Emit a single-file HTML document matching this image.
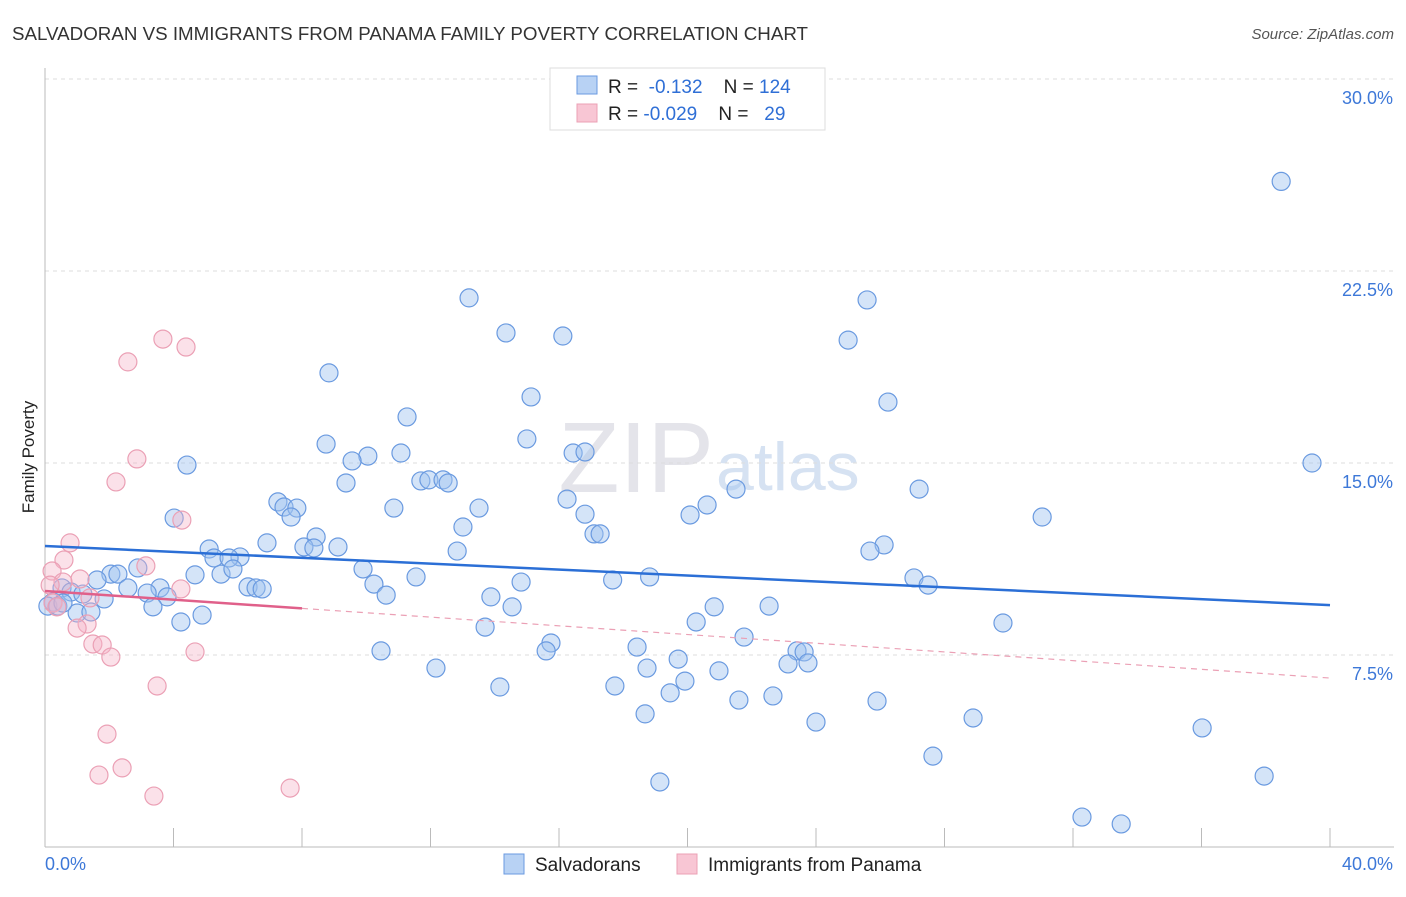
<!DOCTYPE html>
<html><head><meta charset="utf-8"><style>
body{margin:0;background:#fff;font-family:"Liberation Sans",sans-serif;}
svg text{font-family:"Liberation Sans",sans-serif;}
</style></head><body>
<svg id="chart" width="1406" height="892" xmlns="http://www.w3.org/2000/svg">
<text x="12" y="40" font-size="18" fill="#333" textLength="796" lengthAdjust="spacingAndGlyphs">SALVADORAN VS IMMIGRANTS FROM PANAMA FAMILY POVERTY CORRELATION CHART</text>
<text x="1394" y="39" font-size="15" fill="#555" font-style="italic" text-anchor="end">Source: ZipAtlas.com</text>
<text x="714" y="492" font-size="100" fill="#e4e4ea" text-anchor="end" font-family="Liberation Serif">ZIP</text>
<text x="716" y="490" font-size="68" fill="#d6e2f2">atlas</text>
<text transform="translate(34,457) rotate(-90)" font-size="17" fill="#222" text-anchor="middle">Family Poverty</text>
<g id="grid"></g><g id="axes"></g><g id="pts"></g><g id="trend"></g>
<g>
<rect x="550" y="68" width="275" height="62" fill="#fff" stroke="#ddd"/>
<rect x="577" y="76" width="20" height="18" fill="#b8d2f4" stroke="#6a9ae0"/>
<rect x="577" y="104" width="20" height="18" fill="#f8c6d4" stroke="#eba0b5"/>
<text x="608" y="93" font-size="19" fill="#222">R = <tspan fill="#2f6fd6">&#160;-0.132</tspan>&#160;&#160;&#160;&#160;N = <tspan fill="#2f6fd6">124</tspan></text>
<text x="608" y="120" font-size="19" fill="#222">R = <tspan fill="#2f6fd6">-0.029</tspan>&#160;&#160;&#160;&#160;N = <tspan fill="#2f6fd6">&#160;&#160;29</tspan></text>
</g>
<g>
<rect x="504" y="854" width="20" height="20" fill="#b8d2f4" stroke="#6a9ae0"/>
<text x="535" y="871" font-size="19" fill="#222">Salvadorans</text>
<rect x="677" y="854" width="20" height="20" fill="#f8c6d4" stroke="#eba0b5"/>
<text x="708" y="871" font-size="19" fill="#222">Immigrants from Panama</text>
</g>
</svg>
<script>
const xTicks=[0,4,8,12,16,20,24,28,32,36,40];
const yTicks=[7.5,15,22.5,30];
const yTickLabels=["7.5%","15.0%","22.5%","30.0%"];
const xEndLabels=["0.0%","40.0%"];
const blueX=[38.48,13.2,14.35,16.12,25.59,25.0,8.84,15.13,11.27,26.24,8.75,15.0,11.08,10.05,9.56,16.44,16.81,4.42,39.44,9.37,11.7,11.95,12.39,12.55,21.51,27.21,16.25,20.61,10.86,7.25,7.44,7.84,7.66,13.51,16.81,20.08,4.02,31.04,13.01,8.44,17.09,17.28,6.91,5.11,6.07,5.26,5.73,8.06,8.37,9.12,12.83,26.12,25.68,2.89,2.05,2.27,4.67,5.48,5.85,9.9,11.55,17.67,18.82,27.05,27.49,14.82,1.62,10.24,2.58,3.58,6.32,6.57,6.76,0.53,0.81,1.18,3.18,3.8,10.62,13.88,1.84,0.25,0.09,0.4,3.36,14.54,20.83,22.54,1.0,1.43,4.89,4.23,20.27,29.82,13.7,21.76,15.75,18.43,15.6,10.46,23.41,23.63,19.71,18.74,12.17,20.98,23.13,23.75,19.92,17.74,14.16,19.46,21.6,22.66,25.9,18.68,24.0,28.89,36.02,27.64,19.14,37.95,32.28,33.5,0.56];
const blueY=[26.0,21.45,20.08,19.96,21.37,19.8,18.52,17.58,16.8,17.38,15.74,15.94,15.39,15.27,15.08,15.39,15.43,14.92,15.0,14.22,14.3,14.34,14.34,14.22,13.98,13.98,13.59,13.36,13.24,13.48,13.28,13.24,12.89,13.24,13.0,12.97,12.85,12.89,12.5,12.11,12.23,12.23,11.88,11.64,11.33,11.29,11.29,11.72,11.68,11.72,11.56,11.8,11.56,10.9,10.66,10.66,10.63,10.66,10.86,10.86,10.55,10.43,10.55,10.51,10.23,10.35,10.43,10.27,10.12,10.12,10.16,10.12,10.08,10.12,9.96,9.88,9.92,9.77,9.84,9.77,9.69,9.57,9.41,9.41,9.38,9.38,9.38,9.41,9.14,9.18,9.06,8.79,8.79,8.75,8.59,8.2,7.97,7.81,7.66,7.66,7.66,7.62,7.34,6.99,6.99,6.88,7.15,7.19,6.48,6.29,6.25,6.02,5.74,5.9,5.7,5.2,4.88,5.04,4.65,3.55,2.54,2.77,1.17,0.9,9.53];
const pinkX=[3.67,4.39,2.58,2.86,2.21,4.26,0.78,0.59,3.14,0.22,1.09,0.56,0.16,4.23,1.4,0.25,0.37,1.31,1.0,1.49,1.78,2.05,4.67,3.49,1.93,2.4,1.68,3.39,7.63];
const pinkY=[19.84,19.53,18.95,15.16,14.26,12.77,11.88,11.21,10.98,10.78,10.47,10.35,10.23,10.08,9.73,9.53,9.38,8.71,8.55,7.93,7.89,7.42,7.62,6.29,4.41,3.09,2.81,1.99,2.3];
const blueTrend=[11.76,9.45];
const pinkTrend=[10.0,6.6];
const pinkSolidEnd=8;
const X=v=>45+v/40*1285, Y=v=>847-v*25.6;
const NS="http://www.w3.org/2000/svg";
function mk(p,t,a){const e=document.createElementNS(NS,t);for(const k in a)e.setAttribute(k,a[k]);document.getElementById(p).appendChild(e);return e;}
yTicks.forEach((t,i)=>{
 const g=mk('grid','line',{x1:45,x2:1394,y1:Y(t),y2:Y(t),stroke:'#ddd','stroke-dasharray':'4,4'});
 
 
 const l=mk('axes','text',{x:1393,y:Y(t)+25,'font-size':18,fill:'#3d78d8','text-anchor':'end'});l.textContent=yTickLabels[i];
 
 
});
const ax=mk('axes','line',{x1:45,x2:45,y1:68,y2:847,stroke:'#bbb'});


const bx=mk('axes','line',{x1:45,x2:1394,y1:847,y2:847,stroke:'#bbb'});


xTicks.forEach(t=>{const e=mk('axes','line',{x1:X(t),x2:X(t),y1:828,y2:847,stroke:'#bbb'});
 
 });
const l0=mk('axes','text',{x:45,y:870,'font-size':18,fill:'#3d78d8'});l0.textContent=xEndLabels[0];


const l1=mk('axes','text',{x:1393,y:870,'font-size':18,fill:'#3d78d8','text-anchor':'end'});l1.textContent=xEndLabels[1];


blueX.forEach((v,i)=>{const c=mk('pts','circle',{cx:X(v),cy:Y(blueY[i]),r:9,fill:'rgba(160,195,240,0.45)',stroke:'#6a9ae0','stroke-width':1.2});
 
 });
pinkX.forEach((v,i)=>{const c=mk('pts','circle',{cx:X(v),cy:Y(pinkY[i]),r:9,fill:'rgba(245,180,200,0.4)',stroke:'#eba0b5','stroke-width':1.2});
 
 });
const bt=mk('trend','line',{x1:X(0),y1:Y(blueTrend[0]),x2:X(40),y2:Y(blueTrend[1]),stroke:'#2b6fd6','stroke-width':2.5});


const pm=pinkTrend[0]+(pinkTrend[1]-pinkTrend[0])*pinkSolidEnd/40;
const pt=mk('trend','line',{x1:X(0),y1:Y(pinkTrend[0]),x2:X(pinkSolidEnd),y2:Y(pm),stroke:'#e0608a','stroke-width':2.5});


const pd=mk('trend','line',{x1:X(pinkSolidEnd),y1:Y(pm),x2:X(40),y2:Y(pinkTrend[1]),stroke:'#eba0b5','stroke-width':1.2,'stroke-dasharray':'6,5'});


</script>
</body></html>
